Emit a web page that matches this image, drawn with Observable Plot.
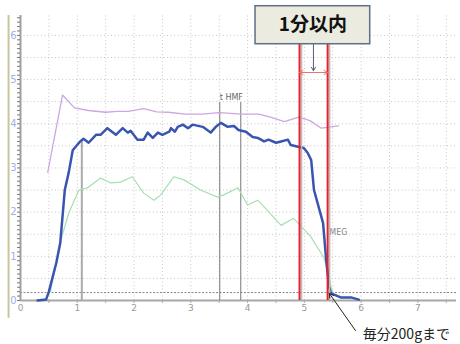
<!DOCTYPE html>
<html><head><meta charset="utf-8">
<script src="https://cdn.jsdelivr.net/npm/d3@7"></script>
<script src="https://cdn.jsdelivr.net/npm/@observablehq/plot@0.6"></script>
<style>body{margin:0;background:#fff;}#c{width:460px;height:344px;}</style>
</head><body><div id="c"></div>
<script>
// ---- data ----
const purpleX = [0.48,0.74,0.95,1.2,1.5,1.7,1.9,2.17,2.4,2.6,2.9,3.2,3.5,3.9,4.2,4.4,4.65,4.9,5.1,5.3,5.6];
const purpleY = [2.9,4.65,4.36,4.3,4.26,4.28,4.28,4.34,4.27,4.26,4.22,4.22,4.25,4.22,4.22,4.15,4.05,4.15,4.07,3.9,3.95];

const blueX = [0.30,0.45,0.50,0.63,0.70,0.78,0.85,0.92,1.05,1.11,1.2,1.33,1.41,1.53,1.68,1.8,1.89,1.94,2.06,2.17,2.24,2.33,2.42,2.5,2.62,2.65,2.72,2.77,2.86,2.95,3.03,3.21,3.35,3.44,3.53,3.65,3.76,3.84,3.97,4.09,4.18,4.29,4.37,4.5,4.59,4.71,4.76,4.89,4.99,5.06,5.12,5.17,5.33,5.38,5.43,5.47,5.64,5.82,5.96];
const blueY = [0,0.02,0.2,0.85,1.3,2.5,2.9,3.4,3.6,3.66,3.57,3.75,3.75,3.9,3.75,3.9,3.8,3.84,3.64,3.64,3.8,3.68,3.8,3.75,3.82,3.9,3.82,3.93,3.98,3.9,3.98,3.93,3.8,3.93,4.02,3.93,3.95,3.86,3.82,3.7,3.68,3.6,3.64,3.57,3.6,3.64,3.52,3.48,3.45,3.34,3.18,2.5,1.75,0.98,0.34,0.16,0.07,0.07,0.02];

const greenX = [0.44,0.53,0.71,0.85,1.03,1.18,1.41,1.59,1.76,1.97,2.17,2.35,2.47,2.7,2.88,3.17,3.47,3.58,3.83,4.0,4.18,4.59,4.81,5.11,5.34,5.43,5.47,5.52];
const greenY = [0,0.22,1.36,1.98,2.5,2.55,2.77,2.66,2.68,2.8,2.43,2.27,2.39,2.8,2.73,2.5,2.34,2.39,2.55,2.16,2.27,1.7,1.86,1.45,0.98,0.61,0.3,0.12];

const xTicks = [0,1,2,3,4,5,6,7];
const yTicks = [0,1,2,3,4,5,6];
const gridX = [0.5,1,1.5,2,2.5,3,3.5,4,4.5,5,5.5,6,6.5,7,7.5];
const gridY = [0.5,1,1.5,2,2.5,3,3.5,4,4.5,5,5.5,6];
const minorY = [0,0.1,0.2,0.3,0.4,0.5,0.6,0.7,0.8,0.9,1,1.1,1.2,1.3,1.4,1.5,1.6,1.7,1.8,1.9,2,2.1,2.2,2.3,2.4,2.5,2.6,2.7,2.8,2.9,3,3.1,3.2,3.3,3.4,3.5,3.6,3.7,3.8,3.9,4,4.1,4.2,4.3,4.4,4.5,4.6,4.7,4.8,4.9,5,5.1,5.2,5.3,5.4,5.5,5.6,5.7,5.8,5.9,6,6.1,6.2,6.3,6.4];
const thresholdY = [0.18];

const cursorX = [1.08];
const cursorTop = [3.62];
const hmfX = [3.51, 3.88];
const hmfTop = [4.48];
const redX = [4.915, 5.41];
const redTop = [5.82];

const boxLabel = "1分以内";
const boxX = [4.14, 6.16];
const boxY = [5.8, 6.66];
const hmfLabel = "t HMF";
const megLabel = "MEG";
const megPos = [5.44, 1.54];
const noteLabel = "毎分200gまで";
const notePos = [6.03, -0.78];
const noteArrow = [5.9, -0.68, 5.44, 0.16];
const downArrow = [5.16, 5.82, 5.16, 5.2];
const spanArrowY = [5.16];
const borderX = [-0.21];
const borderY = [6.45, -0.4];

const toPts = (xs, ys) => xs.map((x, i) => ({x, y: ys[i]}));
const purple = toPts(purpleX, purpleY);
const blue = toPts(blueX, blueY);
const green = toPts(greenX, greenY);

const font = "DejaVu Sans, Liberation Sans, sans-serif";
const jp = "Noto Sans CJK JP, sans-serif";

const chart = Plot.plot({
  width: 460, height: 344,
  marginLeft: 20, marginRight: 4, marginTop: 15, marginBottom: 44,
  x: {domain: [0, 7.68], axis: null},
  y: {domain: [0, 6.45], axis: null},
  style: {fontFamily: font, background: "#fff"},
  marks: [
    // grid
    Plot.ruleX(gridX, {y1: 0, y2: 6.45, stroke: "#c8c8c8", strokeDasharray: "1,2.5", strokeWidth: 1}),
    Plot.ruleY(gridY, {x1: 0, x2: 7.68, stroke: "#c8c8c8", strokeDasharray: "1,2.5", strokeWidth: 1}),
    Plot.ruleY(thresholdY, {x1: 0, x2: 7.68, stroke: "#888", strokeDasharray: "2,1.5", strokeWidth: 1}),
    // border
    Plot.ruleX(borderX, {y1: borderY[0], y2: borderY[1], stroke: "#c7c79c", strokeWidth: 2}),
    // axes
    Plot.ruleY([0], {x1: 0, x2: 7.68, stroke: "#a8a8a8", strokeWidth: 2}),
    Plot.ruleX([0], {y1: 0, y2: 6.45, stroke: "#a0a0a0", strokeWidth: 2}),
    Plot.axisY({ticks: minorY, tickSize: 3, tickFormat: () => "", stroke: "#777", label: null}),
    Plot.axisX({ticks: gridX, tickSize: 3, tickFormat: () => "", stroke: "#aaa", label: null}),
    Plot.text(yTicks, {x: 0, y: d => d, text: d => String(d), dx: -4, textAnchor: "end", fill: "#9db0e8", fontSize: 10}),
    Plot.text(xTicks, {x: d => d, y: 0, text: d => String(d), dy: 8, fill: "#999", fontSize: 9}),
    // cursor lines
    Plot.ruleX(cursorX, {y1: 0, y2: cursorTop[0], stroke: "#aaa", strokeWidth: 2}),
    Plot.ruleX(hmfX, {y1: 0, y2: hmfTop[0], stroke: "#777", strokeWidth: 1}),
    Plot.text([hmfLabel], {x: hmfX[0], y: hmfTop[0], text: d => d, dy: -5, textAnchor: "start", fill: "#666", fontSize: 8}),
    // series
    Plot.line(purple, {x: "x", y: "y", stroke: "#cda6e2", strokeWidth: 1.3}),
    Plot.line(green, {x: "x", y: "y", stroke: "#a6dfb0", strokeWidth: 1.2}),
    Plot.line(blue, {x: "x", y: "y", stroke: "#3a55ae", strokeWidth: 2.5, strokeLinejoin: "round"}),
    Plot.text([megLabel], {x: megPos[0], y: megPos[1], text: d => d, textAnchor: "start", fill: "#888", fontSize: 8}),
    // red window
    Plot.ruleX(redX, {y1: 0, y2: redTop[0], x: d => d, dx: 2, stroke: "#bbb", strokeWidth: 1.5}),
    Plot.ruleX(redX, {y1: 0, y2: redTop[0], stroke: "#e8202a", strokeWidth: 2}),
    Plot.arrow([0], {x1: (redX[0] + redX[1]) / 2, x2: redX[0], y1: spanArrowY[0], y2: spanArrowY[0], stroke: "#f07070", strokeWidth: 1, headLength: 6}),
    Plot.arrow([0], {x1: (redX[0] + redX[1]) / 2, x2: redX[1], y1: spanArrowY[0], y2: spanArrowY[0], stroke: "#f07070", strokeWidth: 1, headLength: 6}),
    Plot.arrow([0], {x1: downArrow[0], y1: downArrow[1], x2: downArrow[2], y2: downArrow[3], stroke: "#555d75", strokeWidth: 1, headLength: 6}),
    // box
    Plot.rect([0], {x1: boxX[0], x2: boxX[1], y1: boxY[0], y2: boxY[1], fill: "#ebebdf", stroke: "#5c7088", strokeWidth: 1.5}),
    Plot.text([boxLabel], {x: (boxX[0] + boxX[1]) / 2, y: (boxY[0] + boxY[1]) / 2, text: d => d, fontSize: 19, fontWeight: "bold", fill: "#111", fontFamily: jp}),
    // note
    Plot.arrow([0], {x1: noteArrow[0], y1: noteArrow[1], x2: noteArrow[2], y2: noteArrow[3], stroke: "#222", strokeWidth: 1, headLength: 7}),
    Plot.text([noteLabel], {x: notePos[0], y: notePos[1], text: d => d, textAnchor: "start", fontSize: 14, fill: "#222", fontFamily: jp})
  ]
});
document.getElementById("c").appendChild(chart);
</script>
</body></html>
